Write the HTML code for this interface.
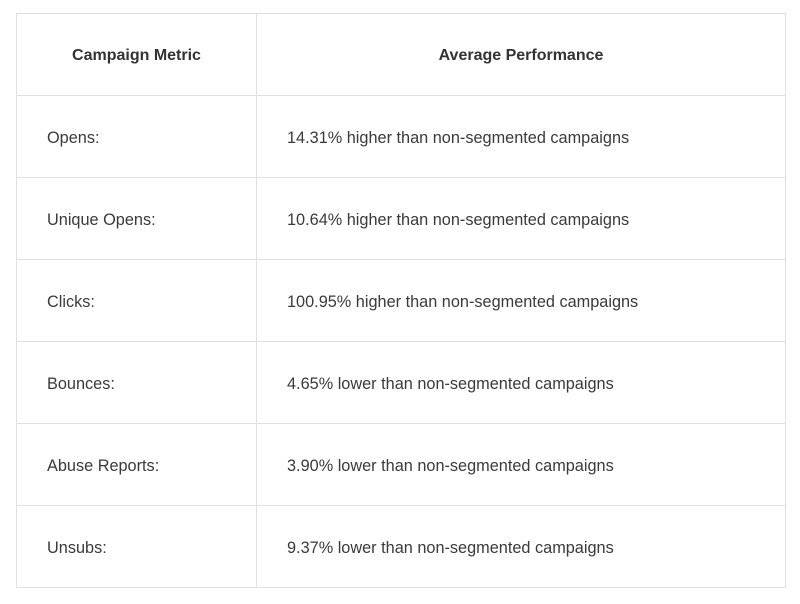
<!DOCTYPE html>
<html><head><meta charset="utf-8"><style>
body{margin:0;width:800px;height:604px;background:#fff;font-family:"Liberation Sans",sans-serif;color:#3a3a3a;position:relative;overflow:hidden}
.tbl{position:absolute;left:16px;top:13px;width:768px;height:573px;border:1px solid #e0e0dc}
.row{position:absolute;left:0;width:768px;height:82px;border-bottom:1px solid #e0e0dc;box-sizing:border-box}
.row:last-child{border-bottom:none}
.c1,.c2{position:absolute;top:0;height:100%;display:flex;align-items:center;font-size:16.3px;padding-top:3px;box-sizing:border-box}
.c1{left:0;width:240px;border-right:1px solid #e0e0dc;padding-left:30px}
.c2{left:240px;width:528px;padding-left:30px}
.hd .c1,.hd .c2{justify-content:center;padding-left:0;font-weight:bold;color:#333;font-size:16px}
</style></head><body>
<div class="tbl">
<div class="row hd" style="top:0"><div class="c1">Campaign Metric</div><div class="c2">Average Performance</div></div>
<div class="row" style="top:82px"><div class="c1">Opens:</div><div class="c2">14.31% higher than non-segmented campaigns</div></div>
<div class="row" style="top:164px"><div class="c1">Unique Opens:</div><div class="c2">10.64% higher than non-segmented campaigns</div></div>
<div class="row" style="top:246px"><div class="c1">Clicks:</div><div class="c2">100.95% higher than non-segmented campaigns</div></div>
<div class="row" style="top:328px"><div class="c1">Bounces:</div><div class="c2">4.65% lower than non-segmented campaigns</div></div>
<div class="row" style="top:410px"><div class="c1">Abuse Reports:</div><div class="c2">3.90% lower than non-segmented campaigns</div></div>
<div class="row" style="top:492px;height:81px"><div class="c1">Unsubs:</div><div class="c2">9.37% lower than non-segmented campaigns</div></div>
</div>
</body></html>
